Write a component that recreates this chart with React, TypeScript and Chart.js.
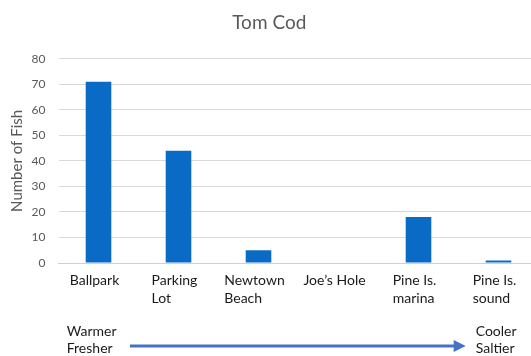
import React, { useEffect, useRef } from "react";
import { Chart, registerables } from "chart.js";

Chart.register(...registerables);

const categories: string[][] = [
  ["Ballpark"],
  ["Parking", "Lot"],
  ["Newtown", "Beach"],
  ["Joe\u2019s Hole"],
  ["Pine Is.", "marina"],
  ["Pine Is.", "sound"],
];
const fishCounts: number[] = [71, 44, 5, 0, 18, 1];
const yTicks: number[] = [0, 10, 20, 30, 40, 50, 60, 70, 80];
const leftNote: string[] = ["Warmer", "Fresher"];
const rightNote: string[] = ["Cooler", "Saltier"];

const FONT = "Lato, 'Open Sans', sans-serif";

const labelsPlugin = {
  id: "customLabels",
  afterDraw(chart: any) {
    const ctx = chart.ctx;
    const xs = chart.scales.x;
    ctx.save();
    ctx.font = `14px ${FONT}`;
    ctx.fillStyle = "#1a1a1a";
    ctx.textBaseline = "middle";
    ctx.textAlign = "left";
    const starts: number[] = [];
    categories.forEach((lines, i) => {
      const cx = xs.getPixelForValue(i);
      const w = Math.max(...lines.map((l) => ctx.measureText(l).width));
      const left = cx - w / 2 - 4;
      starts.push(left);
      lines.forEach((l, j) => ctx.fillText(l, left, 280 + j * 18));
    });
    const lx = starts[0] - 3;
    const rx = starts[starts.length - 1] + 3;
    leftNote.forEach((l, j) => ctx.fillText(l, lx, 331 + j * 17));
    rightNote.forEach((l, j) => ctx.fillText(l, rx, 331 + j * 17));
    // arrow
    const ay = 346;
    const x0 = 130;
    const x1 = rx - 10;
    ctx.strokeStyle = "#4472c4";
    ctx.fillStyle = "#4472c4";
    ctx.lineWidth = 3;
    ctx.beginPath();
    ctx.moveTo(x0, ay);
    ctx.lineTo(x1 - 10, ay);
    ctx.stroke();
    ctx.beginPath();
    ctx.moveTo(x1, ay);
    ctx.lineTo(x1 - 12, ay - 6);
    ctx.lineTo(x1 - 12, ay + 6);
    ctx.closePath();
    ctx.fill();
    ctx.restore();
  },
};

export default function App() {
  const ref = useRef<HTMLCanvasElement>(null);
  useEffect(() => {
    if (!ref.current) return;
    const chart = new Chart(ref.current, {
      type: "bar",
      data: {
        labels: categories.map((c) => c.join(" ")),
        datasets: [
          {
            data: fishCounts,
            backgroundColor: "#0a6bc6",
            categoryPercentage: 1,
            barPercentage: 0.32,
          },
        ],
      },
      options: {
        responsive: false,
        animation: false,
        layout: { padding: { top: 0, bottom: 93, left: 0, right: 6.5 } },
        plugins: {
          legend: { display: false },
          tooltip: { enabled: false },
          title: {
            display: true,
            text: "Tom Cod",
            color: "#595959",
            font: { family: FONT, size: 19, weight: "normal" },
            padding: { top: 11, bottom: 25 },
          },
        },
        scales: {
          x: {
            grid: { display: false, drawTicks: false },
            border: { display: true, color: "#d0d0d0", width: 1 },
            ticks: { display: false },
          },
          y: {
            min: 0,
            max: 80,
            afterFit(scale: any) {
              scale.width = 58.5;
            },
            afterBuildTicks(scale: any) {
              scale.ticks = yTicks.map((v) => ({ value: v }));
            },
            grid: { color: "#d9d9d9", lineWidth: 1, drawTicks: false },
            border: { display: false },
            ticks: {
              padding: 13,
              color: "#595959",
              font: { family: FONT, size: 12 },
            },
            title: {
              display: true,
              text: "Number of Fish",
              color: "#595959",
              font: { family: FONT, size: 15 },
              padding: { top: 8, bottom: 0 },
            },
          },
        },
      },
      plugins: [labelsPlugin],
    });
    return () => chart.destroy();
  }, []);
  return (
    <div
      style={{
        position: "absolute",
        left: 0,
        top: 0,
        width: 531,
        height: 356,
        overflow: "hidden",
        background: "#fff",
      }}
    >
      <canvas ref={ref} width={545} height={356} style={{ width: 545, height: 356 }} />
    </div>
  );
}
